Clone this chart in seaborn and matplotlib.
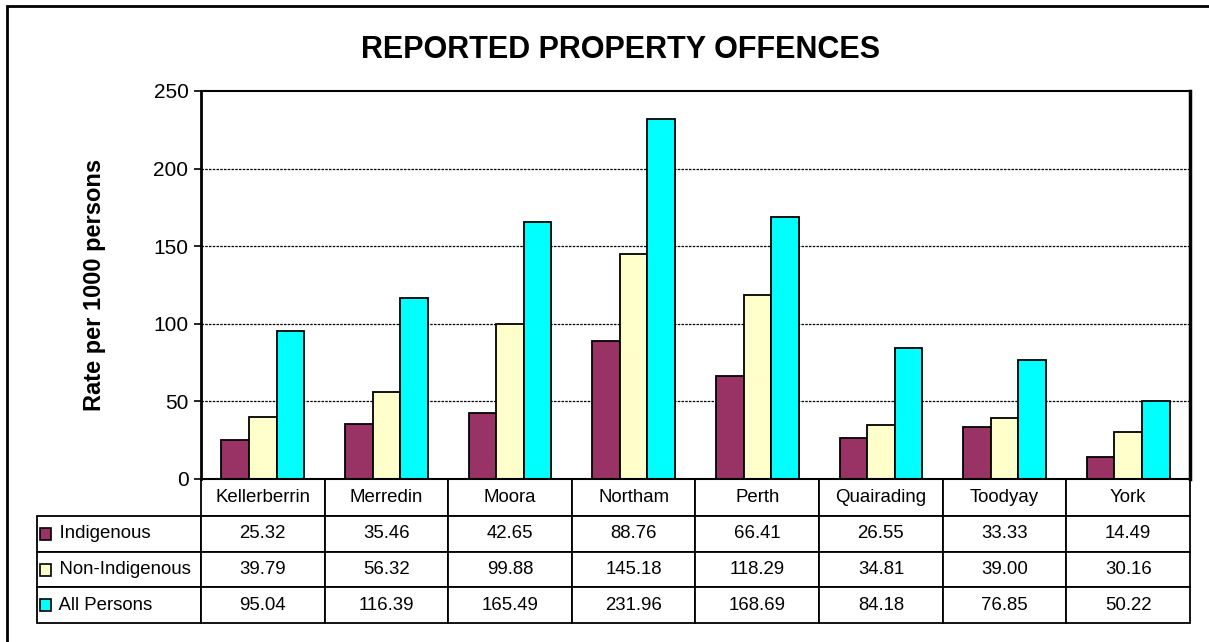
import numpy as np
import pandas as pd
import seaborn as sns
import matplotlib.pyplot as plt
from matplotlib.patches import Rectangle

# data
towns = ["Kellerberrin", "Merredin", "Moora", "Northam", "Perth", "Quairading", "Toodyay", "York"]
series = ["Indigenous", "Non-Indigenous", "All Persons"]
indigenous = [25.32, 35.46, 42.65, 88.76, 66.41, 26.55, 33.33, 14.49]
non_indigenous = [39.79, 56.32, 99.88, 145.18, 118.29, 34.81, 39.00, 30.16]
all_persons = [95.04, 116.39, 165.49, 231.96, 168.69, 84.18, 76.85, 50.22]
colors = ["#993366", "#FFFFCC", "#00FFFF"]

df = pd.DataFrame({"Town": towns * 3,
                   "Group": np.repeat(series, len(towns)),
                   "Rate": indigenous + non_indigenous + all_persons})

sns.set_style("white")
plt.rcParams["font.family"] = ["Liberation Sans", "DejaVu Sans"]
plt.rcParams["text.color"] = "black"
plt.rcParams["ytick.color"] = "black"
plt.rcParams["axes.labelcolor"] = "black"

W, H = 1209, 642
fig = plt.figure(figsize=(W / 100, H / 100), dpi=100)
ax = fig.add_axes([201 / W, 1 - 479 / H, (1190 - 201) / W, (479 - 91) / H])

sns.barplot(data=df, x="Town", y="Rate", hue="Group", palette=colors, saturation=1,
            width=0.67, edgecolor="black", linewidth=1.3, ax=ax, legend=False)

ax.set_ylim(0, 250)
ax.set_xlim(-0.5, len(towns) - 0.5)
ax.set_yticks([0, 50, 100, 150, 200, 250])
ax.tick_params(axis="y", labelsize=15, length=5, width=1.2, direction="out", left=True, pad=4)
ax.set_xticks([])
ax.set_xlabel("")
ax.set_ylabel("Rate per 1000 persons", fontsize=17, fontweight="bold", labelpad=34)
for y in [50, 100, 150, 200]:
    ax.axhline(y, color="black", lw=0.9, ls=(0, (2, 1)), zorder=0)
for s in ax.spines.values():
    s.set_visible(True)
    s.set_color("black")
    s.set_linewidth(1.5)
ax.spines["left"].set_linewidth(2)
ax.spines["right"].set_linewidth(2.5)

# data table below the plot
fmt = lambda v: f"{v:.2f}"
cell_text = [["    " + series[0]] + [fmt(v) for v in indigenous],
             ["    " + series[1]] + [fmt(v) for v in non_indigenous],
             ["    " + series[2]] + [fmt(v) for v in all_persons]]
label_w = (201 - 37) / (1190 - 201)
col_w = [label_w] + [1 / len(towns)] * len(towns)
tbl = ax.table(cellText=cell_text, colLabels=[""] + towns, colWidths=col_w,
               cellLoc="center", bbox=[-label_w, -(623 - 479) / (479 - 91), 1 + label_w, (623 - 479) / (479 - 91)])
tbl.auto_set_font_size(False)
tbl.set_fontsize(13.4)
for (r, c), cell in tbl.get_celld().items():
    cell.set_linewidth(1.3)
    cell.set_edgecolor("black")
    cell.get_text().set_color("black")
    if r == 0 and c == 0:
        cell.visible_edges = ""
    if c == 0 and r > 0:
        cell._loc = "left"
        cell.get_text().set_ha("left")
        cell.PAD = 0.015
for (r, c), cell in tbl.get_celld().items():
    cell.set_height(37 if r == 0 else 35.5)

# legend keys in the row label cells
for i, col in enumerate(colors):
    yc = 1 - (534 + i * 35.5) / H
    fig.patches.append(Rectangle((40 / W, yc - 6 / H), 11 / W, 12 / H, transform=fig.transFigure,
                                 facecolor=col, edgecolor="black", lw=1.2, figure=fig, zorder=5))

fig.text(621 / W, 1 - 50 / H, "REPORTED PROPERTY OFFENCES", ha="center", va="center",
         fontsize=22, fontweight="bold")

# outer frame
fig.patches.append(Rectangle((7 / W, -0.05), 1.2, 1 - 6 / H + 0.05, transform=fig.transFigure,
                             fill=False, edgecolor="black", lw=2, figure=fig))

fig.savefig("out.png", dpi=100)
